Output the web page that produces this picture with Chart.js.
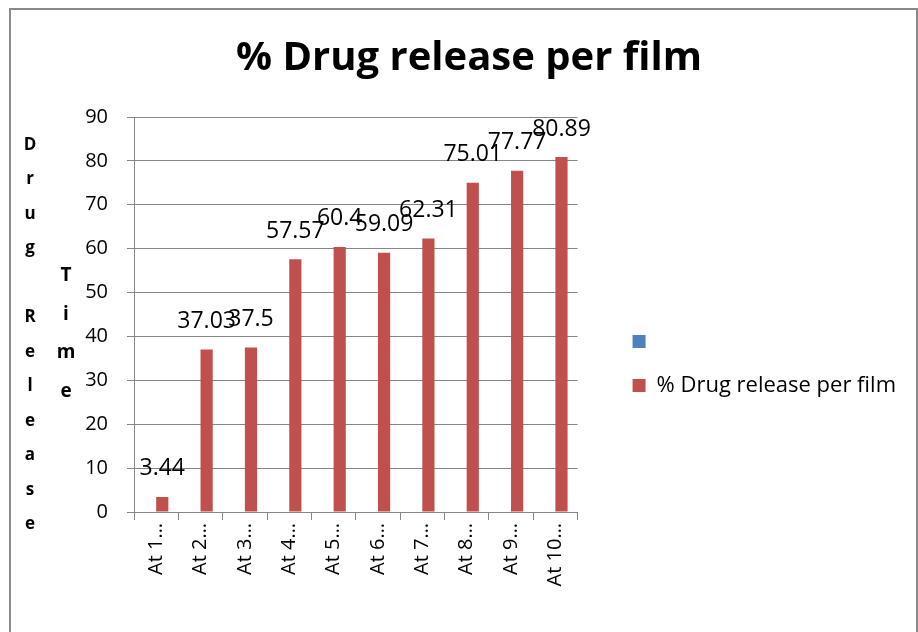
<!DOCTYPE html>
<html>
<head>
<meta charset="utf-8">
<script src="https://cdn.jsdelivr.net/npm/chart.js@4.4.1/dist/chart.umd.min.js"></script>
<style>
  html, body { margin: 0; padding: 0; background: #fff; }
  #wrap { position: relative; width: 918px; height: 632px; overflow: hidden; }
  #frame { position: absolute; left: 9px; top: 8px; width: 905px; height: 640px; border: 2px solid #8a8a8a; pointer-events: none; }
</style>
</head>
<body>
<div id="wrap">
  <canvas id="drugChart" width="918" height="632"></canvas>
  <div id="frame"></div>
</div>
<script>
const labels = ['At 1…', 'At 2…', 'At 3…', 'At 4…', 'At 5…', 'At 6…', 'At 7…', 'At 8…', 'At 9…', 'At 10…'];
const releaseValues = [3.44, 37.03, 37.5, 57.57, 60.4, 59.09, 62.31, 75.01, 77.77, 80.89];
const emptySeries = [];
const chartTitle = '% Drug release per film';
const seriesName = '% Drug release per film';
const yTitle = 'Drug Release';
const xTitle = 'Time';

const fontFamily = '"Open Sans", sans-serif';

// values written above each red bar
const valueLabels = {
  id: 'valueLabels',
  afterDatasetsDraw(chart) {
    const ctx = chart.ctx;
    const meta = chart.getDatasetMeta(1);
    ctx.save();
    ctx.font = '23px ' + fontFamily;
    ctx.fillStyle = '#000';
    ctx.textAlign = 'center';
    ctx.textBaseline = 'middle';
    meta.data.forEach((bar, i) => {
      ctx.fillText(String(releaseValues[i]), bar.x, bar.y - 28);
    });
    ctx.restore();
  }
};

// stacked letter axis titles like the excel original
const stackedTitles = {
  id: 'stackedTitles',
  afterDraw(chart) {
    const ctx = chart.ctx;
    ctx.save();
    ctx.font = 'bold 17px ' + fontFamily;
    ctx.fillStyle = '#000';
    ctx.textAlign = 'center';
    ctx.textBaseline = 'middle';
    yTitle.split('').forEach((ch, i) => {
      ctx.fillText(ch, 30, 145 + i * 34.5);
    });
    ctx.font = 'bold 19px ' + fontFamily;
    xTitle.split('').forEach((ch, i) => {
      ctx.fillText(ch, 66, 276 + i * 38.5);
    });
    ctx.restore();
  }
};

// widen the legend box a little so the items sit further left
const legendWiden = {
  id: 'legendWiden',
  afterInit(chart) {
    const lg = chart.legend;
    if (!lg) return;
    const fit = lg.fit.bind(lg);
    lg.fit = function () {
      fit();
      this.width += 12;
    };
  }
};

const ctx = document.getElementById('drugChart').getContext('2d');
new Chart(ctx, {
  type: 'bar',
  data: {
    labels: labels,
    datasets: [
      {
        label: '',
        data: emptySeries,
        backgroundColor: '#4f81bd'
      },
      {
        label: seriesName,
        data: releaseValues,
        backgroundColor: '#c0504d'
      }
    ]
  },
  options: {
    responsive: false,
    animation: false,
    categoryPercentage: 0.55,
    barPercentage: 1,
    layout: { padding: { left: 20 } },
    plugins: {
      title: {
        display: true,
        text: chartTitle,
        color: '#000',
        font: { family: fontFamily, size: 40, weight: 'bold' },
        padding: { top: 35, bottom: 34 }
      },
      legend: {
        position: 'right',
        maxWidth: 340,
        title: { display: true, text: ' ', font: { size: 11 }, padding: 41 },
        labels: {
          color: '#000',
          font: { family: fontFamily, size: 22 },
          boxWidth: 13,
          boxHeight: 13,
          padding: 22
        }
      },
      tooltip: { enabled: false }
    },
    scales: {
      x: {
        grid: { display: true, drawOnChartArea: false, offset: true, color: '#868686', tickLength: 8 },
        border: { color: '#868686' },
        ticks: {
          color: '#000',
          font: { family: fontFamily, size: 20 },
          minRotation: 90,
          maxRotation: 90,
          autoSkip: false
        },
        afterFit: s => { s.height = 120; }
      },
      y: {
        min: 0,
        max: 90,
        ticks: {
          stepSize: 10,
          color: '#000',
          font: { family: fontFamily, size: 20 },
          padding: 19
        },
        grid: { color: '#868686', tickLength: 7 },
        border: { color: '#868686' },
        afterFit: s => { s.width = 114; }
      },
      spacer: {
        position: 'right',
        display: true,
        grid: { display: false },
        border: { display: false },
        ticks: { display: false },
        afterFit: s => { s.width = 33; }
      }
    }
  },
  plugins: [valueLabels, stackedTitles, legendWiden]
});
</script>
</body>
</html>
